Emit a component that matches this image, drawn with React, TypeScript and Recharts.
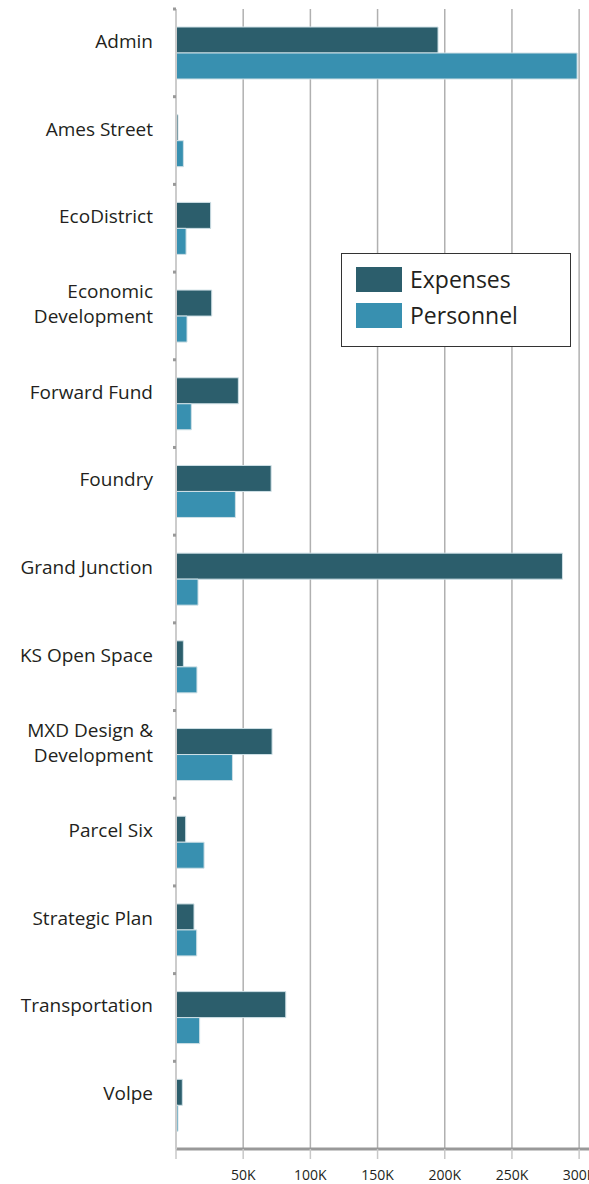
import React from "react";
import { BarChart, Bar, XAxis, YAxis, CartesianGrid, Legend } from "recharts";

const categories = [
  "Admin",
  "Ames Street",
  "EcoDistrict",
  "Economic Development",
  "Forward Fund",
  "Foundry",
  "Grand Junction",
  "KS Open Space",
  "MXD Design & Development",
  "Parcel Six",
  "Strategic Plan",
  "Transportation",
  "Volpe",
];
const expenses = [195000, 1500, 25800, 26600, 46400, 70800, 287600, 5500, 71500, 7200, 13400, 81700, 4700];
const personnel = [298500, 5500, 7500, 8200, 11400, 44200, 16400, 15600, 42000, 20900, 15400, 17600, 1500];
const xTicks = [0, 50000, 100000, 150000, 200000, 250000, 300000];

const EXP_COLOR = "#2c5e6c";
const PER_COLOR = "#3890b0";
const FONT = "'Open Sans', sans-serif";

const data = categories.map((name, i) => ({ name, Expenses: expenses[i], Personnel: personnel[i] }));

function wrap(text: string, maxChars = 14): string[] {
  const words = text.split(" ");
  const lines: string[] = [];
  let cur = "";
  for (const w of words) {
    const next = cur ? cur + " " + w : w;
    if (next.length > maxChars && cur) {
      lines.push(cur);
      cur = w;
    } else {
      cur = next;
    }
  }
  if (cur) lines.push(cur);
  return lines;
}

const YTick = (props: any) => {
  const { x, y, payload } = props;
  const half = payload && typeof payload.offset === "number" && payload.offset > 0 ? payload.offset : 43.85;
  const lines = wrap(String(payload.value));
  const lineH = 25;
  const center = y - 12;
  const firstBaseline = center - ((lines.length - 1) * lineH) / 2 + 7;
  return (
    <g>
      <rect x={x + 5} y={y - half - 1.5} width={3} height={3} fill="#999" />
      <text
        x={x - 15}
        y={firstBaseline}
        textAnchor="end"
        fontFamily={FONT}
        fontSize={19}
        fill="#231f20"
      >
        {lines.map((l, i) => (
          <tspan key={i} x={x - 15} dy={i === 0 ? 0 : lineH}>
            {l}
          </tspan>
        ))}
      </text>
    </g>
  );
};

const LegendBox = (props: any) => {
  const payload = props.payload || [];
  return (
    <div
      style={{
        position: "relative",
        width: 230,
        height: 94,
        boxSizing: "border-box",
        border: "1px solid #333",
        background: "#fff",
      }}
    >
      {payload.map((p: any, i: number) => (
        <div
          key={p.value}
          style={{
            position: "absolute",
            left: 14,
            top: 13 + i * 36,
            height: 25,
            display: "flex",
            alignItems: "center",
          }}
        >
          <div style={{ width: 46, height: 25, background: p.color }} />
          <span
            style={{
              marginLeft: 8,
              fontFamily: FONT,
              fontSize: 23,
              lineHeight: "25px",
              color: "#231f20",
            }}
          >
            {p.value}
          </span>
        </div>
      ))}
    </div>
  );
};

export default function App() {
  return (
    <div
      style={{
        position: "fixed",
        left: 0,
        top: 0,
        width: 589,
        height: 1184,
        overflow: "hidden",
        background: "#fff",
      }}
    >
      <BarChart
        width={620}
        height={1184}
        data={data}
        layout="vertical"
        margin={{ top: 9, right: 14, bottom: 0, left: 0 }}
        barGap={0}
      >
        <CartesianGrid horizontal={false} stroke="#b0b0b0" strokeWidth={1.5} />
        <XAxis
          type="number"
          domain={[0, 320000]}
          ticks={xTicks}
          allowDataOverflow
          height={35}
          axisLine={{ stroke: "#999", strokeWidth: 3 }}
          tickLine={{ stroke: "#c8c8c8", strokeWidth: 1.5 }}
          tickSize={10}
          tickMargin={11}
          tick={{ fontFamily: FONT, fontSize: 14, fill: "#231f20" }}
          tickFormatter={(v: number) => (v === 0 ? "" : `${v / 1000}K`)}
        />
        <YAxis
          type="category"
          dataKey="name"
          width={176}
          interval={0}
          axisLine={{ stroke: "#cccccc", strokeWidth: 2 }}
          tickLine={false}
          tick={<YTick />}
        />
        <Legend
          layout="horizontal"
          verticalAlign="middle"
          align="center"
          content={<LegendBox />}
          wrapperStyle={{ left: 341, top: 253, width: 230, height: 94 }}
        />
        <Bar
          dataKey="Expenses"
          fill={EXP_COLOR}
          barSize={26}
          stroke="#cfe0e6"
          strokeWidth={1}
          isAnimationActive={false}
        />
        <Bar
          dataKey="Personnel"
          fill={PER_COLOR}
          barSize={26}
          stroke="#cfe0e6"
          strokeWidth={1}
          isAnimationActive={false}
        />
      </BarChart>
    </div>
  );
}
